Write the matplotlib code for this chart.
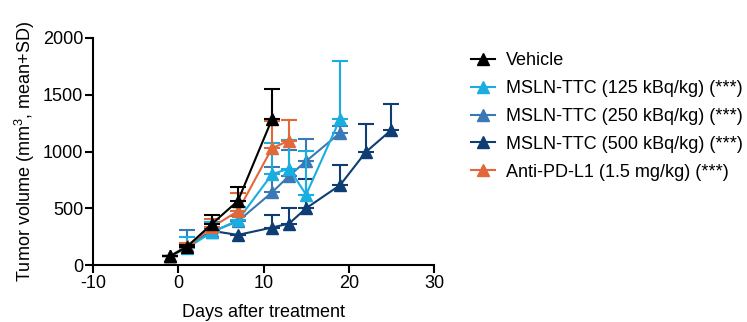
import numpy as np
import matplotlib
matplotlib.use('Agg')
import matplotlib.pyplot as plt
from matplotlib.lines import Line2D

plt.rcParams['font.family'] = ['Liberation Sans', 'DejaVu Sans']
plt.rcParams['mathtext.fontset'] = 'custom'
plt.rcParams['mathtext.rm'] = 'Liberation Sans'
plt.rcParams['axes.unicode_minus'] = False

# group data: days, mean, SD
labels = ['Vehicle',
          'MSLN-TTC (125 kBq/kg) (***)',
          'MSLN-TTC (250 kBq/kg) (***)',
          'MSLN-TTC (500 kBq/kg) (***)',
          'Anti-PD-L1 (1.5 mg/kg) (***)']
colors = ['#000000', '#1aaee0', '#3b78b5', '#0d3d72', '#e2683a']

days_vehicle = [-1, 1, 4, 7, 11]
mean_vehicle = [75, 160, 365, 565, 1285]
sd_vehicle = [0, 15, 75, 125, 270]

days_125 = [-1, 1, 4, 7, 11, 13, 15, 19]
mean_125 = [75, 150, 290, 395, 800, 850, 620, 1290]
sd_125 = [0, 95, 90, 120, 275, 255, 385, 505]

days_250 = [-1, 1, 4, 7, 11, 13, 15, 19]
mean_250 = [75, 165, 295, 385, 640, 785, 915, 1165]
sd_250 = [0, 140, 85, 50, 225, 225, 195, 60]

days_500 = [-1, 1, 4, 7, 11, 13, 15, 19, 22, 25]
mean_500 = [75, 165, 300, 265, 330, 365, 500, 705, 995, 1190]
sd_500 = [0, 20, 25, 0, 110, 140, 260, 175, 245, 225]

days_pdl1 = [-1, 1, 4, 7, 11, 13]
mean_pdl1 = [75, 165, 335, 475, 1030, 1095]
sd_pdl1 = [0, 30, 70, 155, 235, 185]

series = [(days_vehicle, mean_vehicle, sd_vehicle),
          (days_125, mean_125, sd_125),
          (days_250, mean_250, sd_250),
          (days_500, mean_500, sd_500),
          (days_pdl1, mean_pdl1, sd_pdl1)]
# draw order: vehicle on top
order = [3, 2, 1, 4, 0]

fig = plt.figure(figsize=(7.47, 3.22), dpi=100)
ax = fig.add_axes([93/747, 1 - 265/322, (434-93)/747, (265-38)/322])

for z, i in enumerate(order):
    d, m, s = series[i]
    m = np.array(m)
    s = np.array(s)
    err = [np.zeros_like(s), s]  # upper SD only
    ax.errorbar(d, m, yerr=err, color=colors[i], marker='^', markersize=9,
                linewidth=1.5, elinewidth=1.5, capsize=6, capthick=1.5,
                clip_on=False, zorder=3 + z)

ax.set_xlim(-10, 30)
ax.set_ylim(0, 2000)
ax.set_xticks([-10, 0, 10, 20, 30])
ax.set_yticks([0, 500, 1000, 1500, 2000])
ax.spines['top'].set_visible(False)
ax.spines['right'].set_visible(False)
ax.spines['left'].set_linewidth(1.5)
ax.spines['bottom'].set_linewidth(1.5)
ax.tick_params(axis='both', labelsize=13, width=1.5, length=6, pad=1)
ax.set_xlabel('Days after treatment', fontsize=13, labelpad=9)
ax.set_ylabel('Tumor volume (mm$^3$, mean+SD)', fontsize=13, labelpad=4)

handles = [Line2D([], [], color=c, marker='^', markersize=8, linewidth=1.5)
           for c in colors]
fig.legend(handles, labels,
           loc='upper left', bbox_to_anchor=(464/747, 1 - 45/322),
           frameon=False, fontsize=13, handlelength=1.3,
           handletextpad=0.6, labelspacing=0.6, borderaxespad=0)

fig.savefig('out.png', dpi=100)
